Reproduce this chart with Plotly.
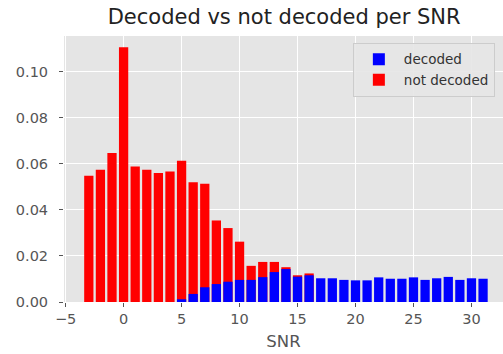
import plotly.graph_objects as go

snr_not = list(range(-3, 17))
not_decoded = [0.0548, 0.0574, 0.0647, 0.1106, 0.0588, 0.0574, 0.0560, 0.0567,
               0.0613, 0.0520, 0.0513, 0.0354, 0.0321, 0.0262, 0.0157, 0.0174,
               0.0174, 0.0151, 0.0116, 0.0124]

snr_dec = list(range(5, 32))
decoded = [0.0012, 0.0035, 0.0064, 0.0078, 0.0088, 0.0096, 0.0096, 0.0108,
           0.0130, 0.0143, 0.0110, 0.0116, 0.0103, 0.0103, 0.0096, 0.0094,
           0.0094, 0.0107, 0.0101, 0.0101, 0.0107, 0.0096, 0.0103, 0.0109,
           0.0096, 0.0103, 0.0101]

xticks = [-5, 0, 5, 10, 15, 20, 25, 30]
yticks = [0.0, 0.02, 0.04, 0.06, 0.08, 0.10]
ytick_text = ["0.00", "0.02", "0.04", "0.06", "0.08", "0.10"]

fig = go.Figure()
fig.add_trace(go.Bar(x=snr_not, y=not_decoded, width=0.8, name="not decoded",
                     marker=dict(color="#FF0000", line=dict(width=0)), legendrank=2))
fig.add_trace(go.Bar(x=snr_dec, y=decoded, width=0.8, name="decoded",
                     marker=dict(color="#0000FF", line=dict(width=0)), legendrank=1))

font = "DejaVu Sans"
fig.update_layout(
    width=503, height=354,
    margin=dict(l=64, r=0, t=36, b=52),
    barmode="overlay",
    paper_bgcolor="white",
    plot_bgcolor="#E5E5E5",
    font=dict(family=font, color="#555555", size=14.5),
    title=dict(text="Decoded vs not decoded per SNR", x=0.565, xanchor="center",
               yref="container", y=1 - 16.5 / 354, yanchor="middle",
               font=dict(family=font, size=21, color="#222222")),
    legend=dict(x=0.658, y=0.974, xanchor="left", yanchor="top",
                itemwidth=40, tracegroupgap=0,
                bgcolor="rgba(229,229,229,0.9)", bordercolor="#CCCCCC", borderwidth=1,
                font=dict(family=font, size=13.5, color="#333333")),
    showlegend=True,
)
fig.update_xaxes(range=[-5.14, 32.72], tickvals=xticks,
                 ticktext=["\u22125"] + [str(v) for v in xticks[1:]],
                 showgrid=True, gridcolor="white", gridwidth=1.2,
                 ticks="outside", ticklen=4, tickcolor="#555555",
                 zeroline=False, showline=False,
                 title=dict(text="SNR", font=dict(family=font, size=16.5, color="#555555"),
                            standoff=9))
fig.update_yaxes(range=[0, 0.1155], tickvals=yticks, ticktext=ytick_text,
                 showgrid=True, gridcolor="white", gridwidth=1.2,
                 ticks="outside", ticklen=4, tickcolor="#555555",
                 ticklabelstandoff=8,
                 zeroline=False, showline=False)

fig.write_html("out.html")
